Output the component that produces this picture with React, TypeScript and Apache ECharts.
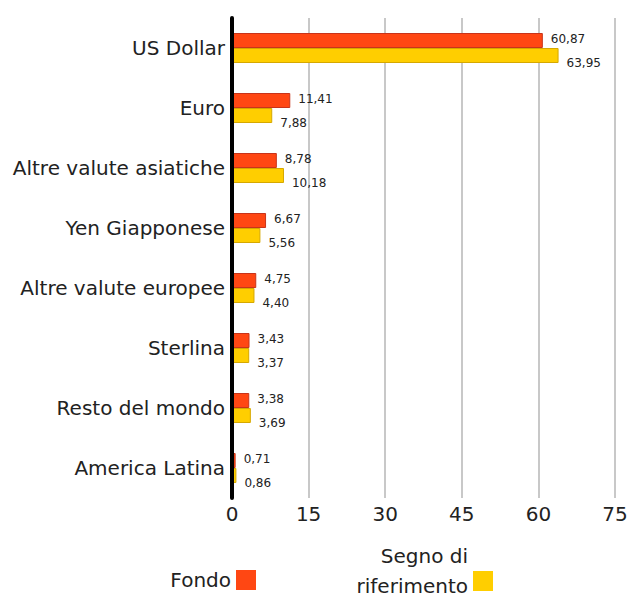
import React, { useEffect, useRef } from "react";
import * as echarts from "echarts";

const categories = [
  "US Dollar",
  "Euro",
  "Altre valute asiatiche",
  "Yen Giapponese",
  "Altre valute europee",
  "Sterlina",
  "Resto del mondo",
  "America Latina",
];
const fondo = [60.87, 11.41, 8.78, 6.67, 4.75, 3.43, 3.38, 0.71];
const riferimento = [63.95, 7.88, 10.18, 5.56, 4.4, 3.37, 3.69, 0.86];
const seriesNames = ["Fondo", "Segno di riferimento"];

const FONT = "DejaVu Sans";
const fmt = (p: any) => Number(p.value).toFixed(2).replace(".", ",");

export default function App() {
  const ref = useRef<HTMLDivElement>(null);
  useEffect(() => {
    if (!ref.current) return;
    const chart = echarts.init(ref.current, null, { renderer: "svg" });
    chart.setOption({
      animation: false,
      textStyle: { fontFamily: FONT },
      grid: { left: 232, right: 29, top: 18, height: 480, containLabel: false },
      xAxis: {
        type: "value",
        min: 0,
        max: 75,
        interval: 15,
        axisLine: { show: false },
        axisTick: { show: false },
        axisLabel: { color: "#222", fontSize: 20, margin: 6, fontFamily: FONT },
        splitLine: { show: true, lineStyle: { color: "#c8c8c8", width: 2 } },
      },
      yAxis: {
        type: "category",
        data: categories,
        inverse: true,
        axisLine: { show: true, lineStyle: { color: "#000", width: 4 } },
        axisTick: { show: false },
        axisLabel: { color: "#222", fontSize: 20, margin: 7, fontFamily: FONT },
        z: 10,
      },
      legend: [
        {
          data: [seriesNames[0]],
          right: 388,
          top: 570,
          align: "right",
          itemWidth: 20,
          itemHeight: 20,
          icon: "rect",
          itemStyle: { borderWidth: 0 },
          textStyle: { fontSize: 20, color: "#222", fontFamily: FONT },
          padding: 0,
        },
        {
          data: [seriesNames[1]],
          right: 151,
          top: 546,
          align: "right",
          itemWidth: 20,
          itemHeight: 20,
          icon: "rect",
          itemStyle: { borderWidth: 0 },
          formatter: () => "{a|Segno di}\n{a|riferimento}\n{b| }",
          textStyle: {
            color: "#222",
            fontFamily: FONT,
            align: "right",
            rich: {
              a: { fontSize: 20, lineHeight: 30, color: "#222", fontFamily: FONT },
              b: { fontSize: 1, lineHeight: 20 },
            },
          },
          padding: 0,
        },
      ],
      series: [
        {
          name: seriesNames[0],
          type: "bar",
          data: fondo,
          barWidth: 15,
          barGap: "0%",
          itemStyle: { color: "#FF4713", borderColor: "#c8341a", borderWidth: 1 },
          label: {
            show: true,
            position: "right",
            distance: 8,
            offset: [0, -2],
            formatter: fmt,
            fontSize: 12,
            color: "#222",
            fontFamily: FONT,
          },
        },
        {
          name: seriesNames[1],
          type: "bar",
          data: riferimento,
          barWidth: 15,
          itemStyle: { color: "#FFCE00", borderColor: "#d6a800", borderWidth: 1 },
          label: {
            show: true,
            position: "right",
            distance: 8,
            offset: [0, 7],
            formatter: fmt,
            fontSize: 12,
            color: "#222",
            fontFamily: FONT,
          },
        },
      ],
    });
    return () => chart.dispose();
  }, []);
  return <div ref={ref} style={{ width: 644, height: 603, margin: -8 }} />;
}
